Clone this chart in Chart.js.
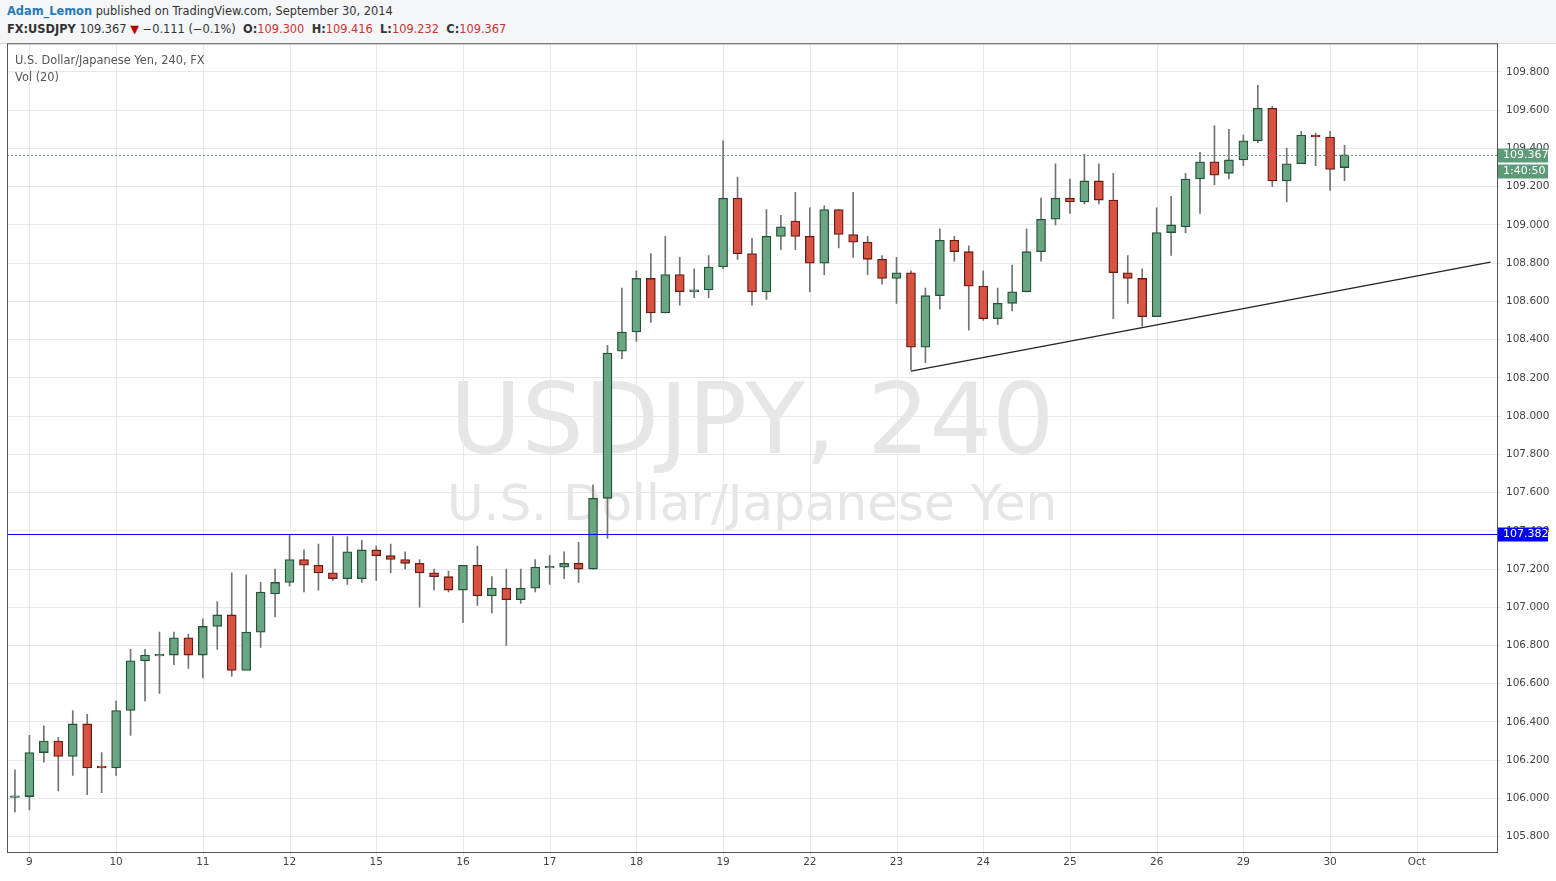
<!DOCTYPE html>
<html><head><meta charset="utf-8">
<script src="https://cdn.jsdelivr.net/npm/chart.js@4/dist/chart.umd.min.js"></script>
<style>
body{margin:0;width:1556px;height:881px;background:#f2f4f6;font-family:"DejaVu Sans",sans-serif;position:relative;overflow:hidden}
#hdr{position:absolute;left:0;top:0;width:1556px;height:43px;background:#f4f6f8;border-bottom:1px solid #d6d9dc;font-size:11.4px;color:#333}
#hdr .l1{position:absolute;left:7px;top:4px}
#hdr .l2{position:absolute;left:7px;top:22px}
#wrap{position:absolute;left:0;top:44px;width:1556px;height:837px;background:#fff}
#c{position:absolute;left:0;top:-12px}
.wm{position:absolute;color:#e6e6e6;white-space:nowrap;transform:translateX(-50%)}
.leg{position:absolute;left:15px;font-size:11.4px;color:#555}
</style></head><body>
<div id="hdr">
<div class="l1"><b style="color:#2a7ab8">Adam_Lemon</b> published on TradingView.com, September 30, 2014</div>
<div class="l2"><b>FX:USDJPY</b> 109.367 <span style="color:#b00">▼</span> −0.111 (−0.1%) &nbsp;<b>O:</b><span style="color:#c33">109.300</span> &nbsp;<b>H:</b><span style="color:#c33">109.416</span> &nbsp;<b>L:</b><span style="color:#c33">109.232</span> &nbsp;<b>C:</b><span style="color:#c33">109.367</span></div>
</div>
<div id="wrap">
<div class="wm" style="left:752px;top:318px;font-size:98px">USDJPY, 240</div>
<div class="wm" style="left:752px;top:430px;font-size:50px">U.S. Dollar/Japanese Yen</div>
<canvas id="c" width="1556" height="849"></canvas>
<div class="leg" style="top:9px">U.S. Dollar/Japanese Yen, 240, FX</div>
<div class="leg" style="top:26px">Vol (20)</div>
</div>
<script>
const opens  =[106.01,106.01,106.24,106.30,106.22,106.39,106.17,106.16,106.46,106.72,106.75,106.75,106.84,106.75,106.90,106.96,106.67,106.87,107.07,107.13,107.25,107.22,107.18,107.15,107.15,107.30,107.27,107.25,107.23,107.18,107.16,107.09,107.22,107.06,107.10,107.04,107.10,107.21,107.21,107.23,107.20,107.57,108.34,108.44,108.72,108.54,108.74,108.65,108.66,108.78,109.14,108.85,108.65,108.94,109.02,108.94,108.80,109.08,108.95,108.91,108.82,108.72,108.75,108.36,108.63,108.92,108.86,108.68,108.51,108.59,108.65,108.86,109.03,109.14,109.12,109.23,109.13,108.75,108.72,108.52,108.96,108.99,109.24,109.33,109.27,109.34,109.44,109.61,109.23,109.32,109.47,109.46,109.300];
const closes =[106.01,106.24,106.30,106.22,106.39,106.16,106.16,106.46,106.72,106.75,106.75,106.84,106.75,106.90,106.96,106.67,106.87,107.08,107.13,107.25,107.22,107.18,107.15,107.29,107.30,107.27,107.25,107.23,107.18,107.16,107.09,107.22,107.06,107.10,107.04,107.10,107.21,107.21,107.23,107.20,107.57,108.33,108.44,108.72,108.54,108.74,108.65,108.66,108.78,109.14,108.85,108.65,108.94,108.99,108.94,108.80,109.08,108.95,108.91,108.82,108.72,108.75,108.36,108.63,108.92,108.86,108.68,108.51,108.59,108.65,108.86,109.03,109.14,109.12,109.23,109.13,108.75,108.72,108.52,108.96,109.00,109.24,109.33,109.26,109.34,109.44,109.61,109.23,109.32,109.47,109.46,109.29,109.367];
const highs  =[106.15,106.33,106.38,106.32,106.46,106.44,106.24,106.51,106.78,106.78,106.87,106.87,106.86,106.94,107.03,107.18,107.17,107.13,107.20,107.38,107.30,107.33,107.37,107.37,107.35,107.32,107.33,107.29,107.25,107.20,107.19,107.22,107.32,107.16,107.20,107.20,107.25,107.27,107.29,107.34,107.64,108.37,108.67,108.76,108.85,108.94,108.83,108.77,108.84,109.44,109.25,108.93,109.08,109.05,109.17,109.09,109.10,109.08,109.17,108.94,108.84,108.83,108.76,108.67,108.98,108.94,108.89,108.76,108.67,108.79,108.98,109.14,109.32,109.24,109.37,109.32,109.27,108.84,108.77,109.09,109.15,109.27,109.38,109.52,109.50,109.47,109.73,109.62,109.40,109.49,109.48,109.49,109.416];
const lows   =[105.93,105.94,106.19,106.04,106.12,106.02,106.03,106.12,106.33,106.51,106.55,106.70,106.68,106.63,106.78,106.64,106.79,106.79,106.95,107.11,107.08,107.09,107.14,107.12,107.13,107.14,107.18,107.20,107.00,107.09,107.08,106.92,107.01,106.97,106.80,107.02,107.08,107.12,107.15,107.13,107.20,107.36,108.30,108.39,108.49,108.54,108.58,108.62,108.62,108.77,108.82,108.58,108.61,108.87,108.87,108.65,108.74,108.88,108.83,108.74,108.69,108.59,108.24,108.28,108.56,108.81,108.45,108.50,108.48,108.55,108.65,108.81,109.00,109.06,109.11,109.11,108.51,108.59,108.47,108.52,108.84,108.96,109.06,109.21,109.24,109.31,109.43,109.20,109.12,109.32,109.31,109.18,109.232];
const dayIdx   =[1,7,13,19,25,31,37,43,49,55,61,67,73,79,85,91,97];
const dayLabels=['9','10','11','12','15','16','17','18','19','22','23','24','25','26','29','30','Oct'];
const trendLine=[{x:62,y:108.235},{x:102.1,y:108.805}];
const supportLevel=107.382, lastPrice=109.367;

const up='#6ba583', dn='#d75442';
const body=opens.map((o,i)=>{const c=closes[i];let a=Math.min(o,c),b=Math.max(o,c);if(b-a<0.008){const m=(a+b)/2;a=m-0.004;b=m+0.004;}return {x:i,y:[a,b]};});
const wick=opens.map((o,i)=>({x:i,y:[lows[i],highs[i]]}));
const isUp=opens.map((o,i)=>closes[i]>=o);

const gridPlugin={id:'vg',beforeDatasetsDraw(ch){
 const ctx=ch.ctx,x=ch.scales.x,a=ch.chartArea;
 ctx.save();ctx.strokeStyle='#e8e8e8';ctx.lineWidth=1;ctx.beginPath();
 dayIdx.forEach(v=>{const px=Math.round(x.getPixelForValue(v))+0.5;ctx.moveTo(px,a.top);ctx.lineTo(px,a.bottom+4);});
 ctx.stroke();ctx.restore();
}};
const labelsPlugin={id:'lbl',afterDatasetsDraw(ch){
 const ctx=ch.ctx,y=ch.scales.y,a=ch.chartArea;
 ctx.save();
 ctx.lineWidth=1;
 ctx.strokeStyle='#5c8f77';ctx.setLineDash([2,2]);ctx.beginPath();
 const yg=Math.round(y.getPixelForValue(lastPrice))+0.5;ctx.moveTo(a.left,yg);ctx.lineTo(a.right,yg);ctx.stroke();ctx.setLineDash([]);
 ctx.strokeStyle='#0000ff';ctx.beginPath();
 const yb=Math.round(y.getPixelForValue(supportLevel))+0.5;ctx.moveTo(a.left,yb);ctx.lineTo(a.right,yb);ctx.stroke();
 ctx.font='11px "DejaVu Sans"';ctx.textBaseline='middle';
 const box=(py,bg,t)=>{ctx.fillStyle=bg;ctx.fillRect(a.right+1,py-7,50,14);ctx.fillStyle='#fff';ctx.fillText(t,a.right+6,py);};
 box(yb,'#0000ff',supportLevel.toFixed(3));
 box(yg,'#5c9a78',lastPrice.toFixed(3));
 box(yg+16,'#5c9a78','1:40:50');
 ctx.strokeStyle='#555';ctx.strokeRect(a.left+0.5,a.top+0.5,a.right-a.left,a.bottom-a.top);
 ctx.restore();
}};

new Chart(document.getElementById('c'),{
 data:{datasets:[
  {type:'bar',data:body,backgroundColor:isUp.map(u=>u?up:dn),borderColor:isUp.map(u=>u?'#225437':'#6b1a14'),borderWidth:1.3,borderSkipped:false,barThickness:9,grouped:false},
  {type:'bar',data:wick,backgroundColor:'#737373',barThickness:1,grouped:false},
  {type:'line',data:trendLine,borderColor:'#222',borderWidth:1.2,pointRadius:0}
 ]},
 plugins:[gridPlugin,labelsPlugin],
 options:{responsive:false,animation:false,devicePixelRatio:1,
  layout:{padding:{left:7,top:0,bottom:8,right:0}},
  plugins:{legend:{display:false},tooltip:{enabled:false}},
  scales:{
   x:{type:'linear',min:-0.55,max:102.55,offset:false,
      afterBuildTicks:ax=>{ax.ticks=dayIdx.map(v=>({value:v}));},
      afterFit:ax=>{ax.height=21;},
      ticks:{autoSkip:false,maxRotation:0,padding:-4,color:'#444',font:{size:10.5,family:'DejaVu Sans'},callback:v=>dayLabels[dayIdx.indexOf(v)]??''},
      grid:{display:false},border:{display:false}},
   y:{position:'right',min:105.72,max:109.95,
      afterBuildTicks:ax=>{const t=[];for(let v=105.8;v<109.81;v+=0.2)t.push({value:+v.toFixed(1)});ax.ticks=t;},
      afterFit:ax=>{ax.width=59;},
      ticks:{autoSkip:false,color:'#444',font:{size:10.5,family:'DejaVu Sans'},callback:v=>v.toFixed(3),padding:5},
      grid:{color:'#e8e8e8',tickLength:4},border:{display:false}}
  }}
});
</script>
</body></html>
